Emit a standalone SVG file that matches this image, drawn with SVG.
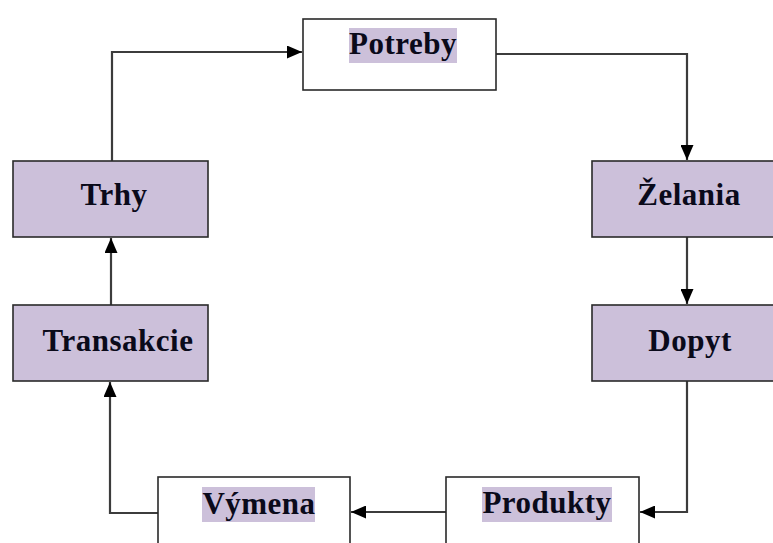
<svg xmlns="http://www.w3.org/2000/svg" width="773" height="543" viewBox="0 0 773 543">
  <style>
    .box { stroke: #2a2a2a; stroke-width: 1.6; }
    .filled { fill: #ccc0da; }
    .plain { fill: #ffffff; }
    .hl { fill: #ccc0da; }
    .lbl { font-family: "Liberation Serif", "Times New Roman", serif; font-weight: bold; font-size: 31px; letter-spacing: 0.5px; fill: #0a0a1a; text-anchor: middle; }
    .wire { fill: none; stroke: #3c3c3c; stroke-width: 2.2; stroke-linejoin: miter; }
  </style>
  <defs>
    <marker id="head" viewBox="0 0 15 13" refX="15" refY="6.5" markerWidth="15" markerHeight="13" markerUnits="userSpaceOnUse" orient="auto">
      <path d="M0,0 L15,6.5 L0,13 Z" fill="#000000"/>
    </marker>
  </defs>
  <rect width="773" height="543" fill="#ffffff"/>

  <g id="connectors">
    <path class="wire" d="M112,161 V52 H302" marker-end="url(#head)"/>
    <path class="wire" d="M496,54 H687 V160" marker-end="url(#head)"/>
    <path class="wire" d="M687,237 V304" marker-end="url(#head)"/>
    <path class="wire" d="M687,381 V512 H640" marker-end="url(#head)"/>
    <path class="wire" d="M446,512 H351" marker-end="url(#head)"/>
    <path class="wire" d="M158,513 H110 V382" marker-end="url(#head)"/>
    <path class="wire" d="M111,305 V238" marker-end="url(#head)"/>
  </g>

  <g id="potreby">
    <rect class="box plain" x="303" y="19" width="193" height="71"/>
    <rect class="hl" x="349" y="28" width="108" height="35"/>
    <text class="lbl" x="403" y="54">Potreby</text>
  </g>

  <g id="zelania">
    <rect class="box filled" x="592" y="161" width="190" height="76"/>
    <text class="lbl" x="689" y="205">Želania</text>
  </g>

  <g id="dopyt">
    <rect class="box filled" x="592" y="305" width="190" height="76"/>
    <text class="lbl" x="690" y="351">Dopyt</text>
  </g>

  <g id="produkty">
    <rect class="box plain" x="446" y="477" width="193" height="80"/>
    <rect class="hl" x="482" y="487" width="130" height="35"/>
    <text class="lbl" x="547" y="513">Produkty</text>
  </g>

  <g id="vymena">
    <rect class="box plain" x="158" y="477" width="192" height="80"/>
    <rect class="hl" x="202" y="487" width="113" height="35"/>
    <text class="lbl" x="259" y="514">Výmena</text>
  </g>

  <g id="transakcie">
    <rect class="box filled" x="13" y="305" width="195" height="76"/>
    <text class="lbl" x="118" y="351">Transakcie</text>
  </g>

  <g id="trhy">
    <rect class="box filled" x="13" y="161" width="195" height="76"/>
    <text class="lbl" x="114" y="205">Trhy</text>
  </g>
</svg>
